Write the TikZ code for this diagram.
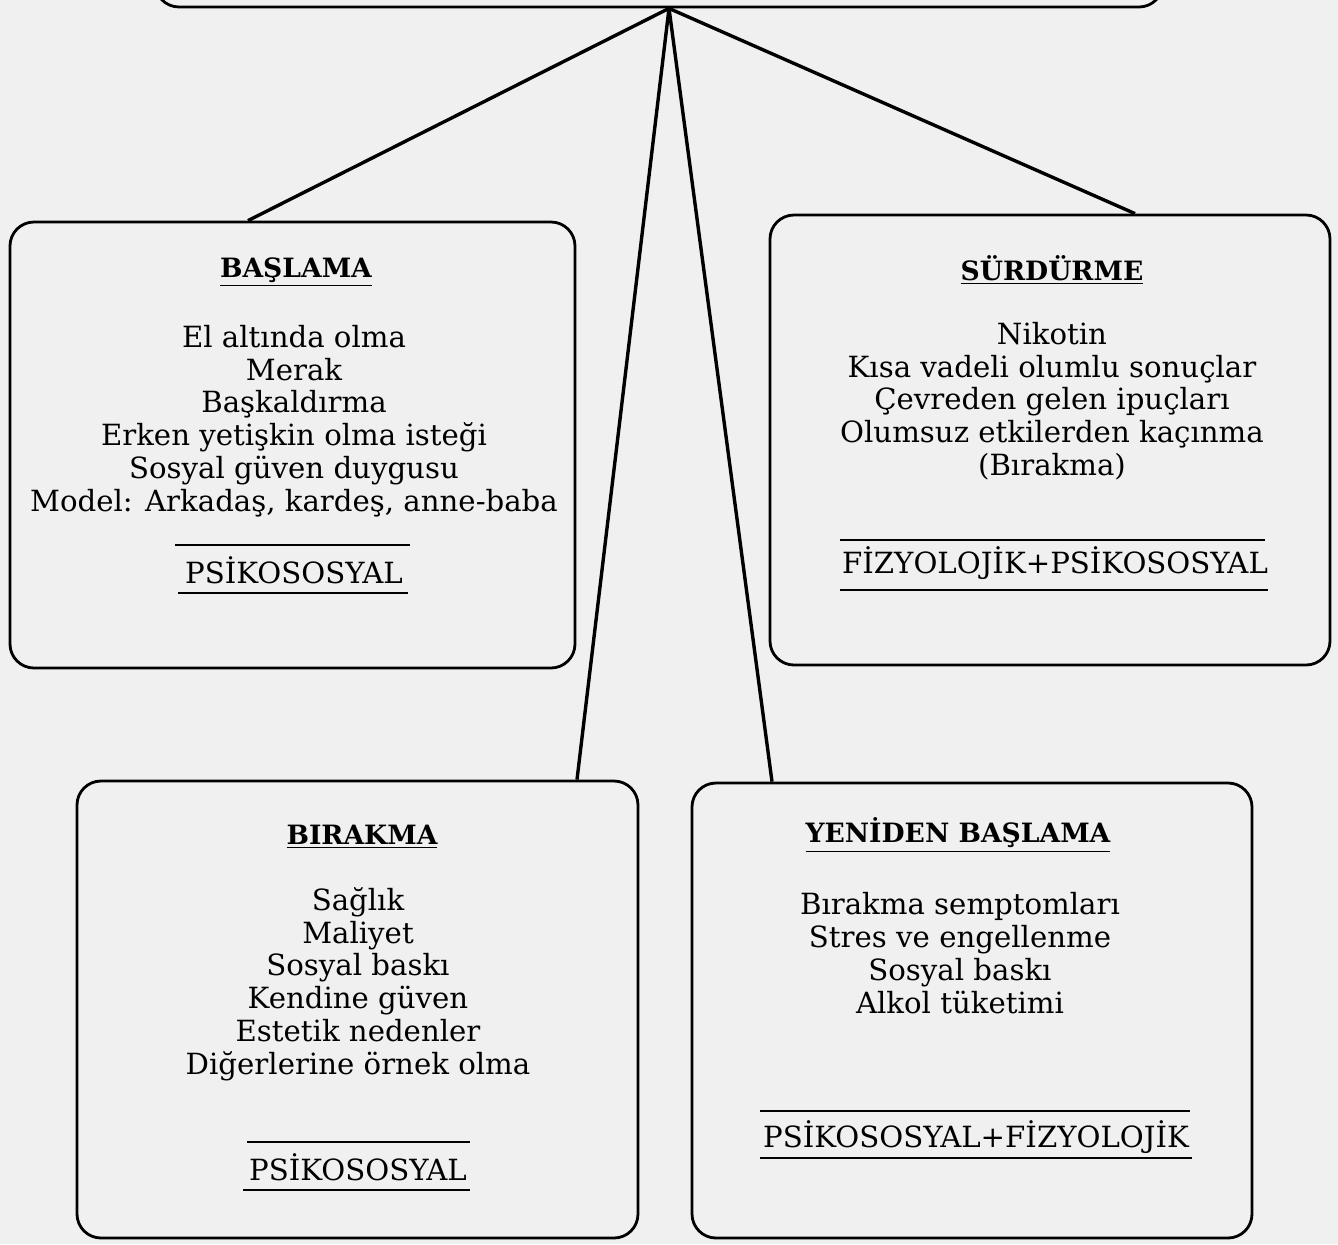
\documentclass[tikz,border=0pt]{standalone}
\usepackage{fontspec}
\setmainfont{DejaVu Serif}
\usetikzlibrary{fit}
\begin{document}
\begin{tikzpicture}[x=0.5pt,y=-0.5pt,
 box/.style={draw, line width=1.4pt, rounded corners=12pt, inner sep=0pt},
 conn/.style={line width=1.7pt},
 ttl/.style={font=\fontsize{13.3}{16}\selectfont\bfseries, inner sep=1pt},
 lst/.style={font=\fontsize{14.6}{16.4}\selectfont, align=center, inner sep=0pt},
 cat/.style={font=\fontsize{14.6}{16.4}\selectfont, inner sep=0pt},
 sep/.style={line width=1.3pt}]
\clip (0,0) rectangle (1338,1244);
\fill[black!6] (0,0) rectangle (1338,1244);

% boxes
\node[box, fit={(155,-100) (1163,7)}] (top) {};
\node[box, fit={(10,222) (575,668)}] (bas) {};
\node[box, fit={(770,215) (1330,665)}] (sur) {};
\node[box, fit={(77,781) (638,1238)}] (bir) {};
\node[box, fit={(692,783) (1252,1238)}] (yen) {};

% connectors
\coordinate (apex) at ([xshift=5pt]top.south);
\draw[conn] (apex) -- ([xshift=-22.25pt]bas.north);
\draw[conn] (apex) -- ([xshift=42.5pt]sur.north);
\draw[conn] (apex) -- ([xshift=109.75pt]bir.north);
\draw[conn] (apex) -- ([xshift=-100pt]yen.north);

% BASLAMA
\node[ttl] (basT) at (296,272) {\underline{BAŞLAMA}};
\node[lst] (basL) at (294,421) {El altında olma\\Merak\\Başkaldırma\\Erken yetişkin olma isteği\\Sosyal güven duygusu\\Model: Arkadaş, kardeş, anne-baba};
\node[cat] (basC) at (294,570) {PSİKOSOSYAL};
\draw[sep] (175,545) -- (410,545);
\draw[sep] (178,593) -- (408,593);

% SURDURME
\node[ttl] (surT) at (1052,270) {\underline{SÜRDÜRME}};
\node[lst] (surL) at (1052,401) {Nikotin\\Kısa vadeli olumlu sonuçlar\\Çevreden gelen ipuçları\\Olumsuz etkilerden kaçınma\\(Bırakma)};
\node[cat] (surC) at (1055,563) {FİZYOLOJİK+PSİKOSOSYAL};
\draw[sep] (840,540) -- (1265,540);
\draw[sep] (840,590) -- (1268,590);

% BIRAKMA
\node[ttl] (birT) at (362,837) {\underline{BIRAKMA}};
\node[lst] (birL) at (358,984) {Sağlık\\Maliyet\\Sosyal baskı\\Kendine güven\\Estetik nedenler\\Diğerlerine örnek olma};
\node[cat] (birC) at (358,1167) {PSİKOSOSYAL};
\draw[sep] (247,1142) -- (470,1142);
\draw[sep] (243,1190) -- (470,1190);

% YENIDEN BASLAMA
\node[ttl] (yenT) at (958,835) {\underline{YENİDEN BAŞLAMA}};
\node[lst] (yenL) at (960,953) {Bırakma semptomları\\Stres ve engellenme\\Sosyal baskı\\Alkol tüketimi};
\node[cat] (yenC) at (976,1137) {PSİKOSOSYAL+FİZYOLOJİK};
\draw[sep] (760,1111) -- (1190,1111);
\draw[sep] (760,1158) -- (1192,1158);
\end{tikzpicture}
\end{document}
